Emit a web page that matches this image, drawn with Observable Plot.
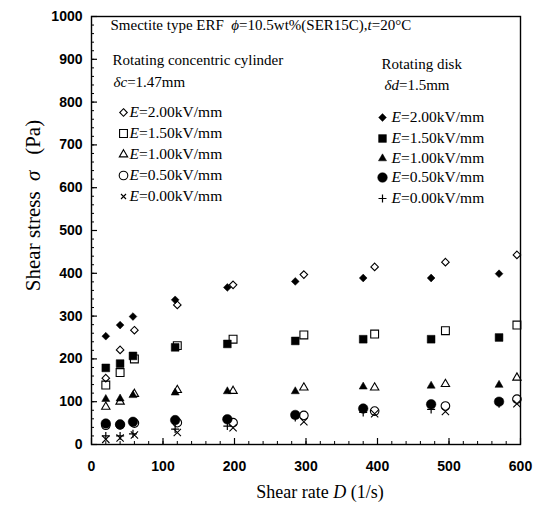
<!DOCTYPE html>
<html><head><meta charset="utf-8">
<script src="https://cdn.jsdelivr.net/npm/d3@7"></script>
<script src="https://cdn.jsdelivr.net/npm/@observablehq/plot@0.6"></script>
<style>html,body{margin:0;padding:0;background:#fff}</style>
</head><body><div id="chart"></div>
<script>
// ---- data ----
const cylRate  = [20, 40, 60, 120, 198, 297, 396, 495, 595];
const diskRate = [20, 40, 58, 117, 190, 285, 380, 475, 570];

// Rotating concentric cylinder (open symbols)
const cylE200 = [155, 221, 267, 326, 373, 397, 415, 426, 443];
const cylE150 = [139, 168, 200, 231, 246, 256, 258, 266, 279];
const cylE100 = [88, 100, 118, 127, 125, 133, 133, 141, 156];
const cylE050 = [45, 46, 50, 51, 51, 68, 78, 90, 106];
const cylE000 = [12, 15, 22, 28, 39, 53, 72, 77, 95];

// Rotating disk (filled symbols)
const diskE200 = [253, 279, 299, 338, 367, 381, 389, 389, 399];
const diskE150 = [179, 189, 207, 227, 235, 242, 246, 246, 250];
const diskE100 = [106, 107, 115, 121, 124, 124, 135, 137, 139];
const diskE050 = [49, 47, 53, 57, 59, 69, 84, 94, 100];
const diskE000 = [20, 20, 25, 36, 43, 63, 75, 82, 95];

const fieldLabels = ["2.00", "1.50", "1.00", "0.50", "0.00"];
const xTicks = [0, 100, 200, 300, 400, 500, 600];
const yTicks = [0, 100, 200, 300, 400, 500, 600, 700, 800, 900, 1000];
const xMinor = d3.range(0, 601, 20);
const yMinor = d3.range(0, 1001, 20);

const titleText = "Smectite type ERF  _ϕ_=10.5wt%(SER15C),_t_=20°C";
const cylTitle = "Rotating concentric cylinder";
const cylGap = "_δc_=1.47mm";
const diskTitle = "Rotating disk";
const diskGap = "_δd_=1.5mm";
const xLabel = "Shear rate _D_ (1/s)";
const yLabel = "Shear stress  _σ_   (Pa)";

// ---- layout ----
const W = 542, H = 515;
const mL = 91, mR = 22, mT = 16, mB = 71;
const fW = W - mL - mR, fH = H - mT - mB;

const cylSeries = [
  {vals: cylE200, symbol: "diamond2", r: 3.4},
  {vals: cylE150, symbol: "square2", r: 5},
  {vals: cylE100, symbol: "triangle2", r: 4},
  {vals: cylE050, symbol: "circle", r: 4.3},
  {vals: cylE000, symbol: "times", r: 3.4}
];
const diskSeries = [
  {vals: diskE200, symbol: "diamond2", r: 3.5},
  {vals: diskE150, symbol: "square", r: 4.4},
  {vals: diskE100, symbol: "triangle", r: 3},
  {vals: diskE050, symbol: "circle", r: 4.8},
  {vals: diskE000, symbol: "plus", r: 2.7}
];

const marks = [];
// ticks (inward)
marks.push(Plot.ruleY(yMinor, {y: d => d, insetRight: fW - 3, stroke: "black", strokeWidth: 1}));
marks.push(Plot.ruleY(yTicks, {y: d => d, insetRight: fW - 6, stroke: "black", strokeWidth: 1.2}));
marks.push(Plot.ruleX(xMinor, {x: d => d, insetTop: fH - 3, stroke: "black", strokeWidth: 1}));
marks.push(Plot.ruleX(xTicks, {x: d => d, insetTop: fH - 6, stroke: "black", strokeWidth: 1.2}));
marks.push(Plot.frame({stroke: "black", strokeWidth: 1.4}));
marks.push(Plot.axisX(xTicks, {tickSize: 0, tickPadding: 17, tickFormat: d => String(d), fontSize: 14, fontWeight: "bold", fontFamily: "Liberation Sans", label: null}));
marks.push(Plot.axisY(yTicks, {tickSize: 0, tickPadding: 9, tickFormat: d => String(d), fontSize: 14, fontWeight: "bold", fontFamily: "Liberation Sans", label: null}));

// data: open first, then filled
cylSeries.forEach(s => {
  marks.push(Plot.dot(s.vals.map((v, i) => ({x: cylRate[i], y: v})), {
    x: "x", y: "y", symbol: () => s.symbol, r: s.r, fill: "none", stroke: "black", strokeWidth: 1.1
  }));
});
diskSeries.forEach(s => {
  const strokeOnly = s.symbol === "plus";
  marks.push(Plot.dot(s.vals.map((v, i) => ({x: diskRate[i], y: v})), {
    x: "x", y: "y", symbol: () => s.symbol, r: s.r,
    fill: strokeOnly ? "none" : "black", stroke: "black", strokeWidth: strokeOnly ? 1.2 : 0.5
  }));
});

// axis titles
const serif = "Liberation Serif, Times New Roman, serif";
marks.push(Plot.text([xLabel], {text: d => d, frameAnchor: "bottom", textAnchor: "middle", dx: 14, dy: 48, fontSize: 18, fontFamily: serif, lineAnchor: "middle", className: "rich"}));
marks.push(Plot.text([yLabel], {text: d => d, frameAnchor: "left", textAnchor: "middle", rotate: -90, dx: -58, dy: -25, fontSize: 21, fontFamily: serif, lineAnchor: "middle", className: "rich"}));

// legend text
const leg = (txt, dx, dy, size = 15) => Plot.text([txt], {text: d => d, frameAnchor: "top-left", dx, dy, textAnchor: "start", lineAnchor: "middle", fontSize: size, fontFamily: serif, className: "rich"});
marks.push(leg(titleText, 19, 9));
marks.push(leg(cylTitle, 21, 44));
marks.push(leg(cylGap, 22, 66));
marks.push(leg(diskTitle, 290, 48));
marks.push(leg(diskGap, 293, 69));

const cylDy = [96, 117, 138, 159, 180];
const diskDy = [101, 122, 142, 161, 182];
fieldLabels.forEach((f, i) => {
  const c = cylSeries[i], d = diskSeries[i];
  marks.push(Plot.dot([0], {frameAnchor: "top-left", dx: 32, dy: cylDy[i], symbol: c.symbol,
    r: c.symbol === "times" ? 2.4 : c.r, fill: "none", stroke: "black", strokeWidth: 1.1}));
  marks.push(leg(`_E_=${f}kV/mm`, 38, cylDy[i], 15.5));
  const so = d.symbol === "plus";
  marks.push(Plot.dot([0], {frameAnchor: "top-left", dx: 291, dy: diskDy[i], symbol: d.symbol,
    r: so ? 2.7 : d.r, fill: so ? "none" : "black", stroke: "black", strokeWidth: so ? 1.2 : 0.5}));
  marks.push(leg(`_E_=${f}kV/mm`, 300, diskDy[i], 15.5));
});

const plot = Plot.plot({
  width: W, height: H,
  marginLeft: mL, marginRight: mR, marginTop: mT, marginBottom: mB,
  x: {domain: [0, 600]},
  y: {domain: [0, 1000]},
  style: {background: "white", color: "black", fontFamily: "Liberation Sans"},
  marks
});

// rich text: _..._ marks italic spans
d3.select(plot).selectAll("g.rich text").each(function() {
  const t = d3.select(this);
  const s = this.textContent;
  t.text(null);
  s.split("_").forEach((part, i) => {
    if (!part) return;
    const ts = t.append("tspan").text(part);
    if (i % 2 === 1) ts.attr("font-style", "italic");
  });
});

document.getElementById("chart").appendChild(plot);
</script>
</body></html>
